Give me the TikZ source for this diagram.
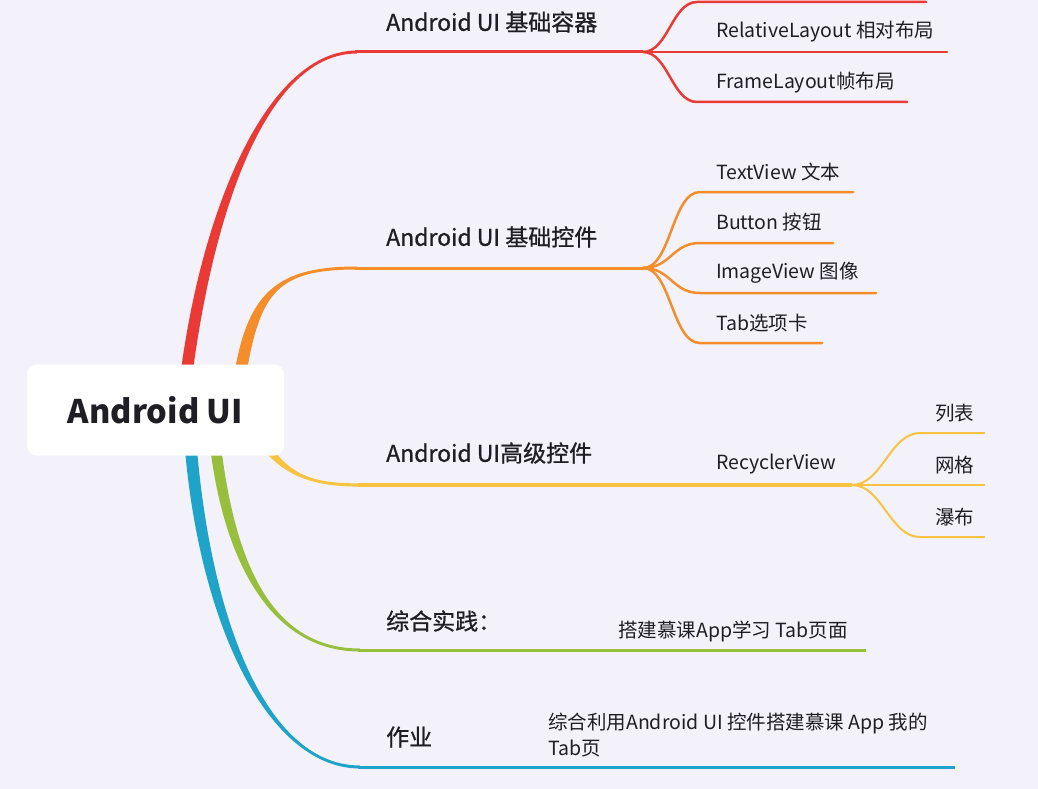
\documentclass[tikz,border=0pt]{standalone}
\usepackage{fontspec}
\setmainfont{Noto Sans CJK SC}
\newfontfamily\medfont[FakeBold=0.9]{Noto Sans CJK SC}
\usetikzlibrary{calc}
\definecolor{bg}{HTML}{F3F2FA}
\definecolor{cred}{HTML}{EA3A36}
\definecolor{corange}{HTML}{F58D2B}
\definecolor{cyellow}{HTML}{F8C340}
\definecolor{cgreen}{HTML}{98BE3E}
\definecolor{cblue}{HTML}{1FA3C9}
\definecolor{ctext}{HTML}{1E1E24}
% tapered branch: #1 colour, #2 start, #3 ctrl1, #4 ctrl2, #5 end, #6 half width at start, #7 signed half width at end
\newcommand\taper[7]{%
  \fill[#1] ($(#2)+(-#6,0)$) .. controls ($(#3)+(-#6,0)$) and ($(#4)+(0,{-(#7)})$) .. ($(#5)+(0,{-(#7)})$)
    -- ($(#5)+(0,{#7})$) .. controls ($(#4)+(0,{#7})$) and ($(#3)+(#6,0)$) .. ($(#2)+(#6,0)$) -- cycle;}
\tikzset{
  mainlbl/.style={anchor=west, inner sep=0pt, text=ctext, font=\medfont\fontsize{23}{27}\selectfont},
  sublbl/.style={anchor=west, inner sep=0pt, text=ctext, font=\fontsize{19.5}{26}\selectfont},
  rootbox/.style={fill=white, rounded corners=10pt, minimum width=257pt, minimum height=91pt, inner sep=0pt,
    text=ctext, font=\bfseries\fontsize{32.5}{38}\selectfont},
  stem/.style={line width=3pt},
  twig/.style={line width=2.5pt, line cap=round},
}
\begin{document}
\begin{tikzpicture}[x=1pt,y=-1pt]
\fill[bg] (0,0) rectangle (1038,789);
\useasboundingbox (0,0) rectangle (1038,789);

% ---- branch geometry
\coordinate (rS) at (187,370); \coordinate (rC1) at (210,200); \coordinate (rC2) at (270,52); \coordinate (rE) at (357,52); \coordinate (rF) at (643,52);
\coordinate (oS) at (241,370); \coordinate (oC1) at (255,290); \coordinate (oC2) at (280,268); \coordinate (oE) at (357,268); \coordinate (oF) at (643,268);
\coordinate (yS) at (258,435); \coordinate (yC1) at (283,475); \coordinate (yC2) at (310,485); \coordinate (yE) at (360,485); \coordinate (yF) at (852,485);
\coordinate (gS) at (216,450); \coordinate (gC1) at (230,560); \coordinate (gC2) at (270,650); \coordinate (gE) at (360,650); \coordinate (gF) at (866,650);
\coordinate (bS) at (191,450); \coordinate (bC1) at (207,630); \coordinate (bC2) at (270,767); \coordinate (bE) at (360,767); \coordinate (bF) at (955,767);

\taper{cred}{rS}{rC1}{rC2}{rE}{6}{1.5}
\taper{corange}{oS}{oC1}{oC2}{oE}{6}{1.5}
\taper{cyellow}{yS}{yC1}{yC2}{yE}{5}{-1.6}
\taper{cgreen}{gS}{gC1}{gC2}{gE}{5.5}{-1.5}
\taper{cblue}{bS}{bC1}{bC2}{bE}{6}{-1.5}

\draw[stem, cred] ($(rE)+(-2,0)$) -- (rF);
\draw[stem, corange] ($(oE)+(-2,0)$) -- (oF);
\draw[line width=3.2pt, cyellow] ($(yE)+(-2,0)$) -- (yF);
\draw[stem, cgreen] ($(gE)+(-2,0)$) -- (gF);
\draw[stem, cblue] ($(bE)+(-2,0)$) -- (bF);

% ---- red children
\coordinate (r1) at (697,2); \coordinate (r1e) at (926,2);
\coordinate (r2e) at (947,52);
\coordinate (r3) at (697,102); \coordinate (r3e) at (907,102);
\draw[twig, cred] (rF) .. controls ($(rF)+(25,0)$) and ($(r1)+(-25,0)$) .. (r1) -- (r1e);
\draw[twig, cred] (rF) -- (r2e);
\draw[twig, cred] (rF) .. controls ($(rF)+(25,0)$) and ($(r3)+(-25,0)$) .. (r3) -- (r3e);

% ---- orange children
\coordinate (o1) at (700,192); \coordinate (o1e) at (853,192);
\coordinate (o2) at (700,243); \coordinate (o2e) at (833,243);
\coordinate (o3) at (700,293); \coordinate (o3e) at (876,293);
\coordinate (o4) at (700,343); \coordinate (o4e) at (822,343);
\foreach \a/\b in {o1/o1e,o2/o2e,o3/o3e,o4/o4e}{
  \draw[twig, corange] (oF) .. controls ($(oF)+(28,0)$) and ($(\a)+(-28,0)$) .. (\a) -- (\b);
}

% ---- yellow children
\coordinate (y1) at (920,433); \coordinate (y1e) at (985,433);
\coordinate (y2e) at (985,485);
\coordinate (y3) at (920,537); \coordinate (y3e) at (985,537);
\draw[line width=2pt, cyellow] (yF) .. controls ($(yF)+(30,0)$) and ($(y1)+(-30,0)$) .. (y1) -- (y1e);
\draw[line width=2pt, cyellow] (yF) -- (y2e);
\draw[line width=2pt, cyellow] (yF) .. controls ($(yF)+(30,0)$) and ($(y3)+(-30,0)$) .. (y3) -- (y3e);

% ---- root
\node[rootbox] (root) at (155.5,410) {Android UI};

% ---- main labels
\node[mainlbl] (m1) at (386,22) {Android UI 基础容器};
\node[mainlbl] (m2) at (386,237) {Android UI 基础控件};
\node[mainlbl] (m3) at (386,453) {Android UI高级控件};
\node[mainlbl] (m4) at (386,621) {综合实践：};
\node[mainlbl] (m5) at (386,737) {作业};

% ---- sub labels
\node[sublbl] (s1) at (716,32) {RelativeLayout 相对布局};
\node[sublbl] (s2) at (716,83) {FrameLayout帧布局};
\node[sublbl] (s3) at (716,172) {TextView 文本};
\node[sublbl] (s4) at (716,222) {Button 按钮};
\node[sublbl] (s5) at (716,273) {ImageView 图像};
\node[sublbl] (s6) at (716,323) {Tab选项卡};
\node[sublbl] (s7) at (716,464) {RecyclerView};
\node[sublbl] (s8) at (935,413) {列表};
\node[sublbl] (s9) at (935,465) {网格};
\node[sublbl] (s10) at (935,517) {瀑布};
\node[sublbl] (s11) at (618,631) {搭建慕课App学习 Tab页面};
\node[sublbl, align=left] (s12) at (548,735) {综合利用Android UI 控件搭建慕课 App 我的\\Tab页};
\end{tikzpicture}
\end{document}
